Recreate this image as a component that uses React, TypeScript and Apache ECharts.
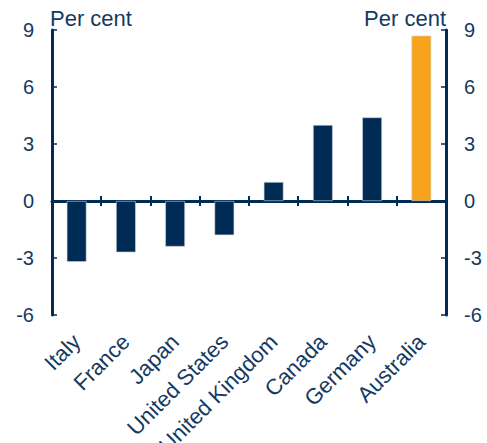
import React, { useEffect, useRef } from "react";
import * as echarts from "echarts";

const categories = ["Italy", "France", "Japan", "United States", "United Kingdom", "Canada", "Germany", "Australia"];
const values = [-3.2, -2.7, -2.4, -1.8, 1.0, 4.0, 4.4, 8.7];
const highlight = "Australia";
const yTicks = { min: -6, max: 9, interval: 3 };

const NAVY = "#002b55";
const TEXT = "#143a62";
const ORANGE = "#f9a31b";

export default function App() {
  const ref = useRef<HTMLDivElement>(null);
  useEffect(() => {
    if (!ref.current) return;
    const chart = echarts.init(ref.current, null, { renderer: "svg" });
    const font = "Liberation Sans, Arial, sans-serif";
    const yCommon = {
      type: "value",
      min: yTicks.min,
      max: yTicks.max,
      interval: yTicks.interval,
      splitLine: { show: false },
      axisLine: { show: true, lineStyle: { color: NAVY, width: 3 } },
      axisTick: { show: true, inside: true, length: 5, lineStyle: { color: NAVY, width: 1.5 } },
      axisLabel: { color: TEXT, fontSize: 20, fontFamily: font, margin: 18 },
      name: "Per cent",
      nameLocation: "end",
      nameGap: 3,
    };
    chart.setOption({
      animation: false,
      grid: {
        left: 52,
        right: 41,
        top: 30,
        bottom: 128,
        containLabel: false,
        outerBoundsMode: "none",
      },
      xAxis: [
        {
          type: "category",
          data: categories,
          axisLine: { onZero: true, lineStyle: { color: NAVY, width: 3 } },
          axisTick: { show: false },
          axisLabel: { show: false },
        },
        {
          type: "category",
          data: categories,
          position: "bottom",
          axisLine: { onZero: false, show: false },
          axisTick: { show: false },
          axisLabel: {
            show: true,
            rotate: 45,
            interval: 0,
            color: TEXT,
            fontSize: 22,
            fontFamily: font,
            margin: 23,
          },
        },
      ],
      yAxis: [
        {
          ...yCommon,
          position: "left",
          nameTextStyle: { color: TEXT, fontSize: 22, fontFamily: font, align: "left", padding: [0, 0, -2, -2] },
        },
        {
          ...yCommon,
          position: "right",
          nameTextStyle: { color: TEXT, fontSize: 22, fontFamily: font, align: "right", padding: [0, 0, -2, 0] },
        },
      ],
      series: [
        {
          type: "bar",
          xAxisIndex: 0,
          yAxisIndex: 0,
          barWidth: "40%",
          data: values.map((v, i) => ({
            value: v,
            itemStyle: {
              color: categories[i] === highlight ? ORANGE : NAVY,
              borderColor: "#c8d0da",
              borderWidth: 0.6,
            },
          })),
        },
      ],
    });

    // ticks on the zero line, between neighbouring categories, placed via the axes' own scales
    const y0 = chart.convertToPixel({ yAxisIndex: 0 }, 0) as number;
    const xs = categories.map((c) => chart.convertToPixel({ xAxisIndex: 0 }, c) as number);
    const ticks = xs.slice(1).map((x, i) => {
      const bx = Math.round((xs[i] + x) / 2);
      return {
        type: "line",
        silent: true,
        z: 10,
        shape: { x1: bx, y1: y0 - 5, x2: bx, y2: y0 + 5 },
        style: { stroke: NAVY, lineWidth: 2 },
      };
    });
    chart.setOption({ graphic: ticks });

    return () => chart.dispose();
  }, []);
  return (
    <div
      ref={ref}
      style={{ position: "fixed", left: 0, top: 0, width: 487, height: 443, background: "#fff" }}
    />
  );
}
